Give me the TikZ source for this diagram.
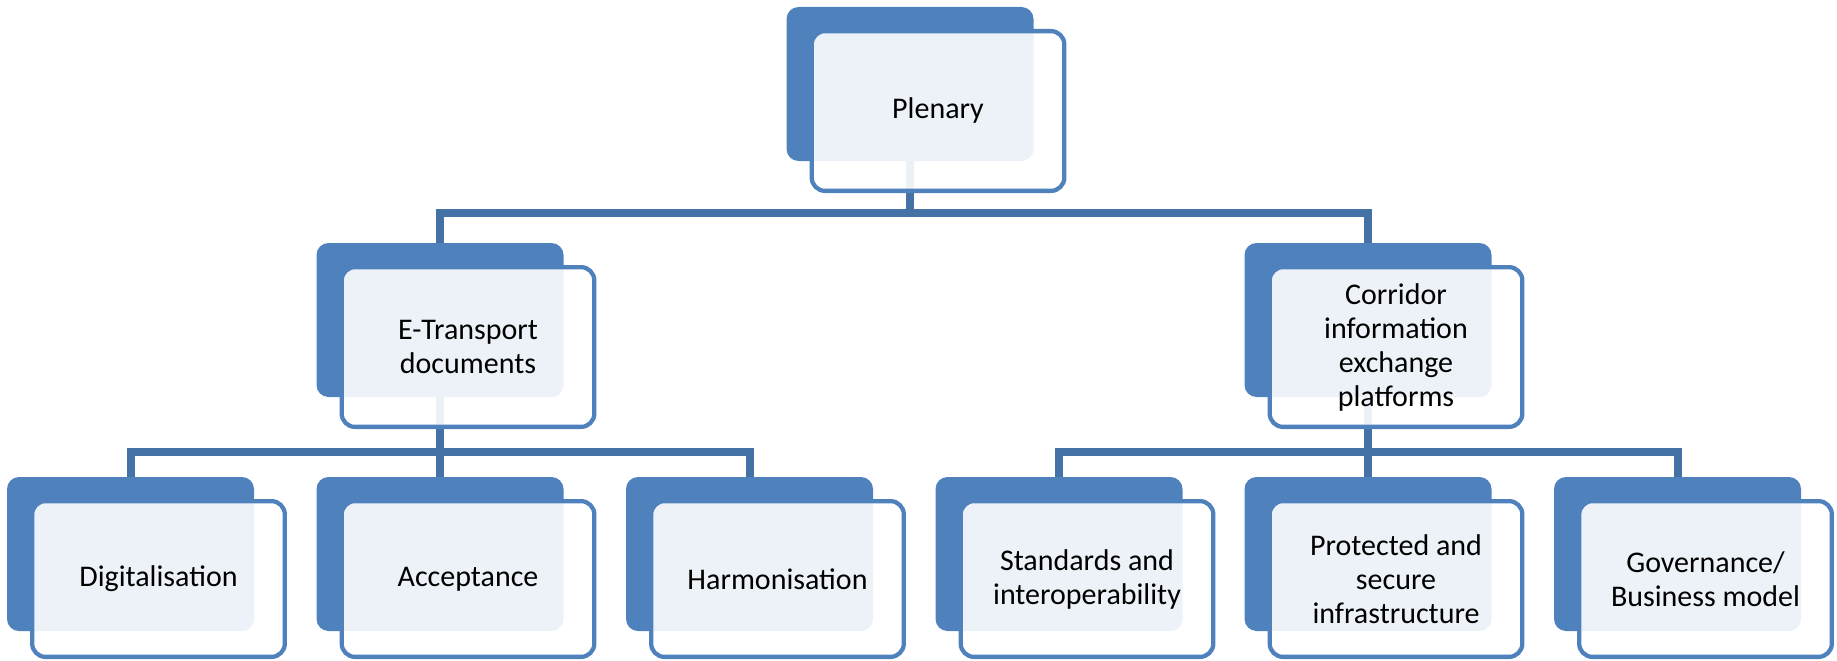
\documentclass[tikz,border=0pt]{standalone}
\usepackage{fontspec}
\setmainfont{Carlito}
\definecolor{boxblue}{RGB}{79,129,189}
\definecolor{linkblue}{RGB}{68,114,166}
\tikzset{every picture/.style={line width=0.75pt}}

\begin{document}
\begin{tikzpicture}[x=0.75pt,y=0.75pt,yscale=-1,xscale=1,
    backbox/.style={fill=boxblue, rounded corners=9pt, minimum width=185.25pt, minimum height=115.5pt, inner sep=0pt, outer sep=0pt},
    frontbox/.style={draw=boxblue, line width=3.2pt, fill=white, fill opacity=0.9, text opacity=1, rounded corners=10pt, minimum width=189.5pt, minimum height=116.8pt, inner sep=2pt, outer sep=0pt, align=center, font=\fontsize{22.5}{25.5}\selectfont},
    tallbox/.style={frontbox, minimum height=119.8pt},
    link/.style={draw=linkblue, line width=6pt, line join=miter}]
\useasboundingbox (0,0) rectangle (1837,660);

%Shape: back boxes
\node [backbox] (plenB) at (910,84) {};
\node [backbox] (etB) at (440,320) {};
\node [backbox] (ciB) at (1368,320) {};
\node [backbox] (digB) at (130.5,554) {};
\node [backbox] (accB) at (440,554) {};
\node [backbox] (harB) at (749.5,554) {};
\node [backbox] (stdB) at (1059,554) {};
\node [backbox] (proB) at (1368,554) {};
\node [backbox] (govB) at (1677.5,554) {};

%Connectors
\coordinate (barTop) at (910,213);
\coordinate (barLeft) at (440,452);
\coordinate (barRight) at (1368,452);
\draw [link] (plenB.south) -- (barTop);
\draw [link] (etB.north) |- (barTop) -| (ciB.north);
\draw [link] (etB.south) -- (accB.north);
\draw [link] (digB.north) |- (barLeft) -| (harB.north);
\draw [link] (ciB.south) -- (proB.north);
\draw [link] (stdB.north) |- (barRight) -| (govB.north);

% Text Node
\node [tallbox] (plen) at (938,111) {Plenary};
% Text Node
\node [tallbox] (et) at (468,347) {E-Transport\\documents};
% Text Node
\node [tallbox] (ci) at (1396,347) {Corridor\\information\\exchange\\platforms};
% Text Node
\node [frontbox] (dig) at (158.5,579) {Digitalisation};
% Text Node
\node [frontbox] (acc) at (468,579) {Acceptance};
% Text Node
\node [frontbox] (har) at (777.5,579) {Harmonisation};
% Text Node
\node [frontbox] (std) at (1087,579) {Standards and\\interoperability};
% Text Node
\node [frontbox] (pro) at (1396,579) {Protected and\\secure\\infrastructure};
% Text Node
\node [frontbox] (gov) at (1705.5,579) {Governance/\\Business model};

\end{tikzpicture}
\end{document}
